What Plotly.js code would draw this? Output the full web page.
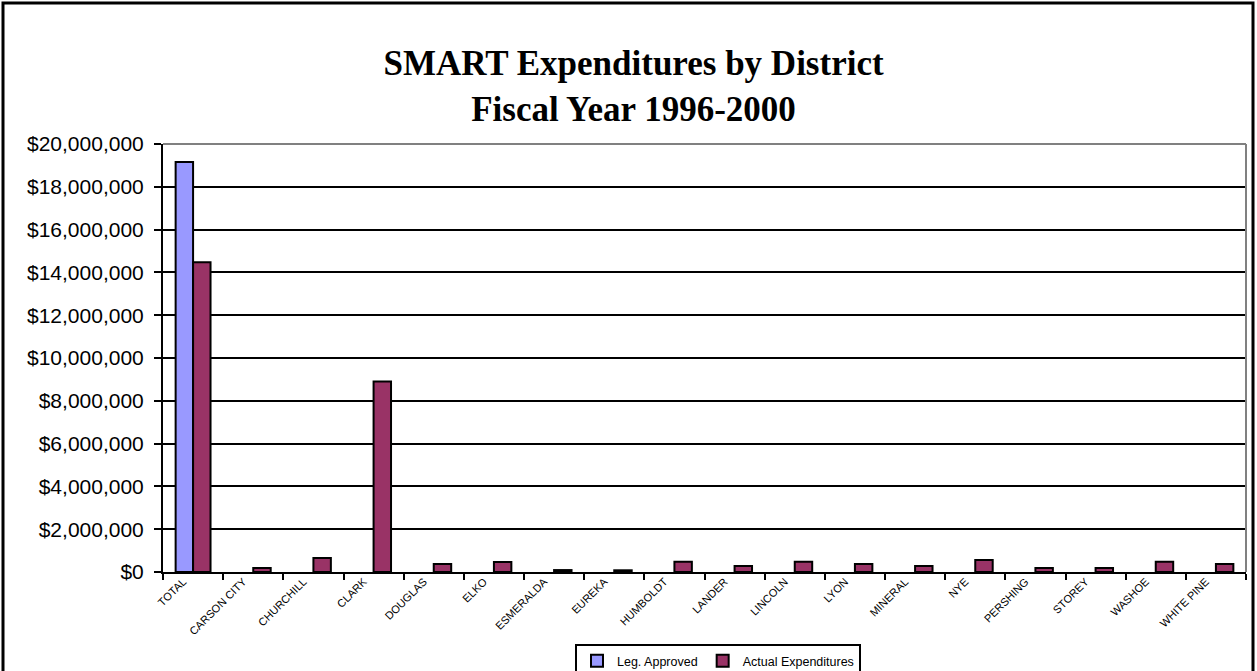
<!DOCTYPE html>
<html>
<head>
<meta charset="utf-8">
<script src="https://cdn.plot.ly/plotly-3.0.1.min.js"></script>
<style>
html,body{margin:0;padding:0;background:#fff;overflow:hidden;}
#chart{width:1257px;height:671px;}
</style>
</head>
<body>
<div id="chart"></div>
<script>
const districts = ["TOTAL","CARSON CITY","CHURCHILL","CLARK","DOUGLAS","ELKO","ESMERALDA","EUREKA","HUMBOLDT","LANDER","LINCOLN","LYON","MINERAL","NYE","PERSHING","STOREY","WASHOE","WHITE PINE"];
const legApproved = [19160000,null,null,null,null,null,null,null,null,null,null,null,null,null,null,null,null,null];
const actualExpenditures = [14480000,190000,650000,8900000,370000,470000,90000,80000,480000,280000,480000,370000,280000,560000,190000,190000,480000,370000];
const yTickVals = [0,2000000,4000000,6000000,8000000,10000000,12000000,14000000,16000000,18000000,20000000];
const yTickText = ["$0","$2,000,000","$4,000,000","$6,000,000","$8,000,000","$10,000,000","$12,000,000","$14,000,000","$16,000,000","$18,000,000","$20,000,000"];

const L=163, R=11, T=144, B=99, W=1257, H=671;
const pw = W-L-R, ph = H-T-B;
const px = x => (x-L)/pw;
const py = y => (H-B-y)/ph;

const traces = [
  {type:'bar', name:'Leg. Approved', x:districts, y:legApproved,
   marker:{color:'#9999FF', line:{color:'#000', width:2}}},
  {type:'bar', name:'Actual Expenditures', x:districts, y:actualExpenditures,
   marker:{color:'#993366', line:{color:'#000', width:2}}}
];

const layout = {
  width:W, height:H,
  margin:{l:L, r:R, t:T, b:B, pad:0, autoexpand:false},
  paper_bgcolor:'#fff', plot_bgcolor:'#fff',
  barmode:'group', bargap:0.42, bargroupgap:0,
  showlegend:true,
  title:{text:'SMART Expenditures by District<br>Fiscal Year 1996-2000',
    font:{family:'"Times New Roman","Liberation Serif",serif', size:35, color:'#000', weight:'bold'},
    xref:'container', x:0.504, xanchor:'center', yref:'container', y:0.888, yanchor:'middle'},
  xaxis:{type:'category', tickangle:-45, tickson:'boundaries', ticks:'outside', ticklen:6, tickwidth:2, tickcolor:'#000',
    showline:true, linecolor:'#000', linewidth:2, showgrid:false, zeroline:false,
    ticklabelshift:-10, ticklabelstandoff:-3,
    tickfont:{family:'Arial,"Liberation Sans",sans-serif', size:11, color:'#000'}, automargin:false, fixedrange:true},
  yaxis:{range:[0,20000000], tickvals:yTickVals, ticktext:yTickText, ticks:'outside', ticklen:7, tickwidth:2, tickcolor:'#000',
    showline:true, linecolor:'#000', linewidth:2, showgrid:true, gridcolor:'#000', gridwidth:2, zeroline:false,
    ticklabelstandoff:6,
    tickfont:{family:'Arial,"Liberation Sans",sans-serif', size:21, color:'#000'}, automargin:false, fixedrange:true},
  legend:{orientation:'h', x:px(718), xanchor:'center', y:py(644), yanchor:'top',
    bordercolor:'#000', borderwidth:2, bgcolor:'#fff',
    font:{family:'Arial,"Liberation Sans",sans-serif', size:12.5, color:'#000'},
    itemwidth:30, tracegroupgap:0},
  shapes:[
    {type:'line', xref:'paper', yref:'paper', x0:0, x1:1, y0:1, y1:1, line:{color:'#808080', width:2}},
    {type:'line', xref:'paper', yref:'paper', x0:1, x1:1, y0:0, y1:1, line:{color:'#808080', width:2}},
    {type:'rect', xref:'paper', yref:'paper', x0:px(3), x1:px(1253), y0:py(3), y1:py(700), line:{color:'#000', width:3}, layer:'above'}
  ]
};

Plotly.newPlot('chart', traces, layout, {displayModeBar:false, staticPlot:true});
</script>
</body>
</html>
